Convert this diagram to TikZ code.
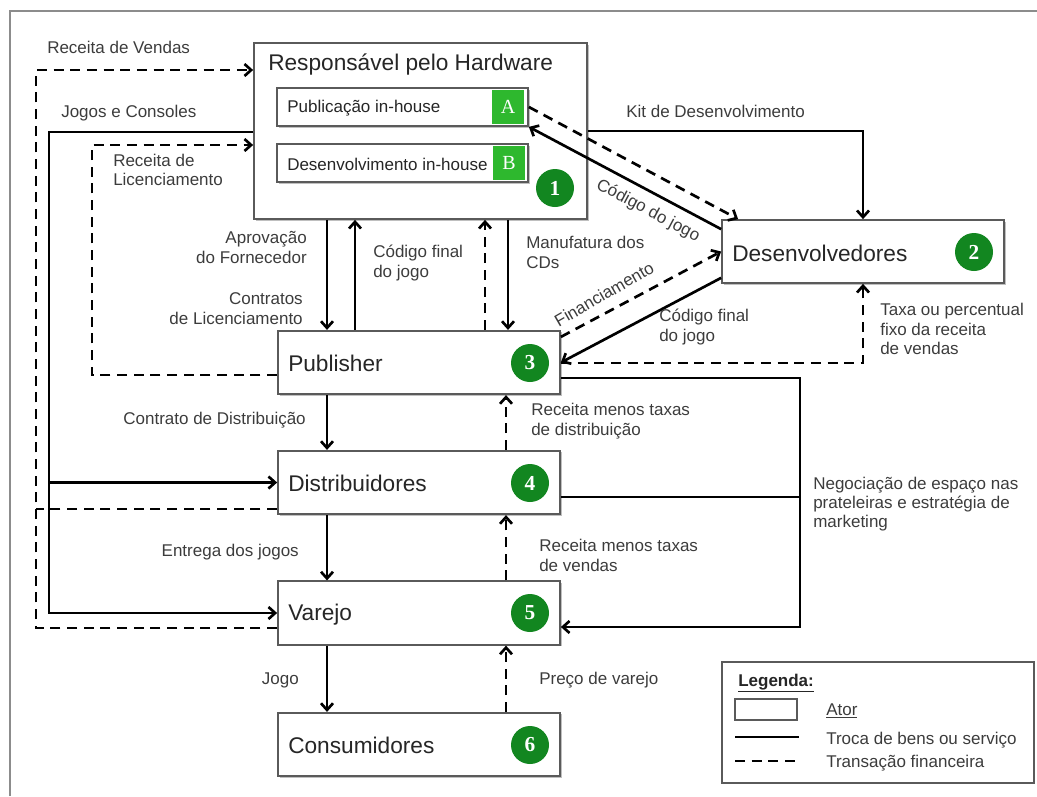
\documentclass[tikz,border=0pt]{standalone}
\usepackage{fontspec}
\setmainfont{Liberation Sans}
\newfontfamily\serifnum{Liberation Serif}
\usetikzlibrary{arrows.meta,calc,shadows}
\definecolor{circgreen}{RGB}{18,134,32}
\definecolor{sqgreen}{RGB}{46,184,46}
\definecolor{lbl}{RGB}{60,60,60}
\definecolor{boxline}{RGB}{90,90,90}
\definecolor{framegray}{RGB}{140,140,140}
\begin{document}
\begin{tikzpicture}[x=0.75pt,y=-0.75pt,
  goods/.style={line width=2pt, draw=black},
  fin/.style={line width=2pt, draw=black, dash pattern=on 7.5pt off 5pt},
  arr/.style={-{Straight Barb[length=5pt,width=9pt]}},
  actor/.style={draw=boxline, line width=1.3pt, fill=white, rectangle, inner sep=0pt,
    drop shadow={shadow xshift=1.2pt, shadow yshift=-1.2pt, fill=black, opacity=0.25}},
  plainbox/.style={draw=boxline, line width=1.3pt, fill=white, rectangle, inner sep=0pt},
  lab/.style={font=\fontsize{12.75}{14.5}\selectfont, text=lbl, inner sep=0pt},
  big/.style={font=\fontsize{17}{20}\selectfont, text=black!85, inner sep=0pt},
  num/.style={circle, fill=circgreen, text=white, minimum size=28.5pt, inner sep=0pt, font=\serifnum\bfseries\fontsize{16}{16}\selectfont},
  sq/.style={fill=sqgreen, text=white, minimum width=24pt, minimum height=25.5pt, inner sep=0pt, font=\serifnum\fontsize{15}{15}\selectfont},
]
\useasboundingbox (0,0) rectangle (1037,796);
% frame
\coordinate (fr1) at (10,796);
\coordinate (fr2) at (10,11);
\coordinate (fr3) at (1037,11);
\draw[framegray, line width=2.2pt] (fr1) -- (fr2) -- (fr3);

% actors
\node[actor, minimum width=249.75pt, minimum height=132pt] (hw) at (420.5,131) {};
\node[big, anchor=west] (hwt) at (268,65) {Responsável pelo Hardware};
\node[actor, minimum width=188.25pt, minimum height=28.5pt] (A) at (402.5,107) {};
\node[lab, anchor=west, text=black!85] (At) at (287,108) {Publicação in-house};
\node[sq] (Asq) at (508,106.5) {A};
\node[actor, minimum width=188.25pt, minimum height=28.5pt] (B) at (402.5,163) {};
\node[lab, anchor=west, text=black!85] (Bt) at (287,164) {Desenvolvimento in-house};
\node[sq] (Bsq) at (509,163) {B};
\node[num] (n1) at (555,188) {1};

\node[actor, minimum width=211.5pt, minimum height=47.25pt] (dev) at (863,251.5) {};
\node[big, anchor=west] (devt) at (732,253) {Desenvolvedores};
\node[num] (n2) at (974,252) {2};

\node[actor, minimum width=211.5pt, minimum height=47.6pt] (pub) at (419,362.5) {};
\node[big, anchor=west] (pubt) at (288,363) {Publisher};
\node[num] (n3) at (530,363) {3};

\node[actor, minimum width=211.5pt, minimum height=47.6pt] (dist) at (419,482.5) {};
\node[big, anchor=west] (distt) at (288,483) {Distribuidores};
\node[num] (n4) at (530,483) {4};

\node[actor, minimum width=211.5pt, minimum height=47.6pt] (var) at (419,613) {};
\node[big, anchor=west] (vart) at (288,615) {Varejo};
\node[num] (n5) at (530,613) {5};

\node[actor, minimum width=211.5pt, minimum height=47.6pt] (cons) at (419,744.5) {};
\node[big, anchor=west] (const) at (288,745) {Consumidores};
\node[num] (n6) at (530,745) {6};

% left loops
\coordinate (rvA) at (36,628);
\coordinate (rvB) at (36,70);
\draw[fin,arr] (var.west |- rvA) -- (rvA) -- (rvB) -- (hw.west |- rvB);
\coordinate (dl) at (36,509);
\draw[fin] (dist.west |- dl) -- (dl);

\coordinate (jc) at (49,132);
\draw[goods,arr] (hw.west |- jc) -- (jc) -- (jc |- var.west) -- (var.west);
\draw[goods,arr] (jc |- dist.west) -- (dist.west);

\coordinate (rl) at (92,145);
\coordinate (rl2) at (92,375);
\draw[fin,arr] (pub.west |- rl2) -- (rl2) -- (rl) -- (hw.west |- rl);

% hardware <-> publisher
\coordinate (x1) at (327,0);
\coordinate (x2) at (355,0);
\coordinate (x3) at (485,0);
\coordinate (x4) at (508,0);
\draw[goods,arr] (hw.south -| x1) -- (pub.north -| x1);
\draw[goods,arr] (pub.north -| x2) -- (hw.south -| x2);
\draw[fin,arr] (pub.north -| x3) -- (hw.south -| x3);
\draw[goods,arr] (hw.south -| x4) -- (pub.north -| x4);

% hardware / developers
\coordinate (kit) at (863,131);
\draw[goods,arr] (hw.east |- kit) -- (kit) -- (dev.north);
\draw[fin,arr] (A.east) -- ($(dev.north west)+(17,0)$);
\draw[goods,arr] ($(dev.north west)+(0,10)$) -- (A.south east);
\draw[fin,arr] ($(pub.north east)+(0,7)$) -- (dev.west);
\draw[goods,arr] ($(dev.south west)+(0,-6)$) -- (pub.east);
\coordinate (tx) at (863,363);
\draw[fin,arr] (pub.east |- tx) -- (tx) -- (dev.south);

% negotiation
\coordinate (ng1) at (800,378);
\coordinate (ng2) at (800,627);
\coordinate (ng3) at (800,497);
\draw[goods,arr] (pub.east |- ng1) -- (ng1) -- (ng2) -- (var.east |- ng2);
\draw[goods] (dist.east |- ng3) -- (ng3);

% lower chain
\coordinate (x5) at (327,0);
\coordinate (x6) at (506,0);
\draw[goods,arr] (pub.south -| x5) -- (dist.north -| x5);
\draw[fin,arr] (dist.north -| x6) -- (pub.south -| x6);
\draw[goods,arr] (dist.south -| x5) -- (var.north -| x5);
\draw[fin,arr] (var.north -| x6) -- (dist.south -| x6);
\draw[goods,arr] (var.south -| x5) -- (cons.north -| x5);
\draw[fin,arr] (cons.north -| x6) -- (var.south -| x6);

% labels
\node[lab, anchor=west] (l1) at (47,47) {Receita de Vendas};
\node[lab, anchor=west] (l2) at (61,113) {Jogos e Consoles};
\node[lab, anchor=west, align=left] (l3) at (113,170) {Receita de\\Licenciamento};
\node[lab, anchor=west] (l4) at (626,111) {Kit de Desenvolvimento};
\node[lab, anchor=east, align=right] (l5) at (307,247.5) {Aprovação\\do Fornecedor};
\node[lab, anchor=east, align=right] (l6) at (303,308.5) {Contratos\\de Licenciamento};
\node[lab, anchor=west, align=left] (l7) at (373,263) {Código final\\do jogo};
\node[lab, anchor=west, align=left] (l8) at (526,252.5) {Manufatura dos\\CDs};
\node[lab, rotate=-28] (l9) at (648,211) {Código do jogo};
\node[lab, rotate=30] (l10) at (604,294) {Financiamento};
\node[lab, anchor=west, align=left] (l11) at (659,327) {Código final\\do jogo};
\node[lab, anchor=west, align=left] (l12) at (880,329) {Taxa ou percentual\\fixo da receita\\de vendas};
\node[lab, anchor=east] (l13) at (306,420) {Contrato de Distribuição};
\node[lab, anchor=west, align=left] (l14) at (531,421) {Receita menos taxas\\de distribuição};
\node[lab, anchor=west, align=left] (l15) at (813,504) {Negociação de espaço nas\\prateleiras e estratégia de\\marketing};
\node[lab, anchor=east] (l16) at (299,552) {Entrega dos jogos};
\node[lab, anchor=west, align=left] (l17) at (539,555.5) {Receita menos taxas\\de vendas};
\node[lab, anchor=east] (l18) at (299,680) {Jogo};
\node[lab, anchor=west] (l19) at (539,680) {Preço de varejo};

% legend
\node[plainbox, minimum width=234pt, minimum height=90.75pt] (leg) at (878,722.5) {};
\node[lab, anchor=west, text=black!85, font=\bfseries\fontsize{12.75}{14.5}\selectfont] (legt) at (738,683) {\underline{Legenda:}};
\node[plainbox, minimum width=46.5pt, minimum height=15.75pt] (legbox) at (766,709.5) {};
\node[lab, anchor=west] (lega) at (826,711) {\underline{Ator}};
\coordinate (ls1) at (735,737);
\coordinate (ls2) at (799,737);
\draw[goods] (ls1) -- (ls2);
\node[lab, anchor=west] (legs) at (826,740) {Troca de bens ou serviço};
\coordinate (lf1) at (735,761);
\coordinate (lf2) at (799,761);
\draw[fin] (lf1) -- (lf2);
\node[lab, anchor=west] (legf) at (826,763) {Transação financeira};
\end{tikzpicture}
\end{document}
